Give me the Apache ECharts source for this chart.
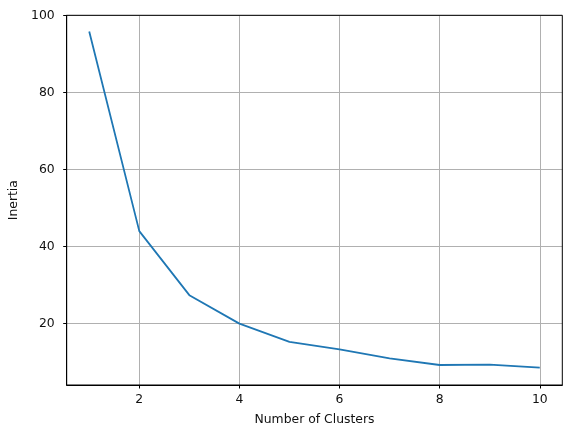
<!DOCTYPE html>
<html><head><meta charset="utf-8">
<script src="https://cdn.jsdelivr.net/npm/echarts@6/dist/echarts.min.js"></script>
<style>html,body{margin:0;padding:0;background:#fff}#c{width:571px;height:438px}</style>
</head><body><div id="c"></div>
<script>
const clusters = [1, 2, 3, 4, 5, 6, 7, 8, 9, 10];
const inertia = [95.9, 44.0, 27.35, 19.95, 15.2, 13.25, 10.9, 9.2, 9.3, 8.5];
const xTicks = [2, 4, 6, 8, 10];
const yTicks = [20, 40, 60, 80, 100];

const chart = echarts.init(document.getElementById('c'), null, {renderer: 'canvas'});
const font = '"DejaVu Sans", sans-serif';
chart.setOption({
  animation: false,
  backgroundColor: '#fff',
  textStyle: {fontFamily: font},
  grid: {left: 66.7, right: 8.7, top: 15.3, bottom: 53, containLabel: false},
  xAxis: {
    type: 'value', min: 0.55, max: 10.45,
    name: 'Number of Clusters', nameLocation: 'middle', nameGap: 29,
    nameTextStyle: {fontFamily: font, fontSize: 12.4, color: '#111'},
    axisLine: {show: true, onZero: false, lineStyle: {color: '#000', width: 1}},
    axisTick: {show: true, length: 3.5, customValues: xTicks, lineStyle: {color: '#000', width: 1}},
    axisLabel: {customValues: xTicks, fontFamily: font, fontSize: 12.4, color: '#111', margin: 9},
    splitLine: {show: true, lineStyle: {color: '#b0b0b0', width: 1}}
  },
  yAxis: {
    type: 'value', min: 4.0, max: 100.1,
    name: 'Inertia', nameLocation: 'middle', nameGap: 45.5, nameRotate: 90,
    nameTextStyle: {fontFamily: font, fontSize: 12.4, color: '#111'},
    axisLine: {show: true, onZero: false, lineStyle: {color: '#000', width: 1}},
    axisTick: {show: true, length: 3.5, customValues: yTicks, lineStyle: {color: '#000', width: 1}},
    axisLabel: {customValues: yTicks, fontFamily: font, fontSize: 12.4, color: '#111', margin: 12},
    splitLine: {show: true, lineStyle: {color: '#b0b0b0', width: 1}}
  },
  series: [{
    type: 'line',
    data: clusters.map((c, i) => [c, inertia[i]]),
    showSymbol: false,
    lineStyle: {color: '#1f77b4', width: 1.8},
    z: 3
  }],
  graphic: [{
    type: 'rect', silent: true, z: 10,
    shape: {x: 66.7, y: 15.3, width: 571 - 66.7 - 8.7, height: 438 - 15.3 - 53},
    style: {fill: null, stroke: '#000', lineWidth: 1}
  }]
});
</script></body></html>
